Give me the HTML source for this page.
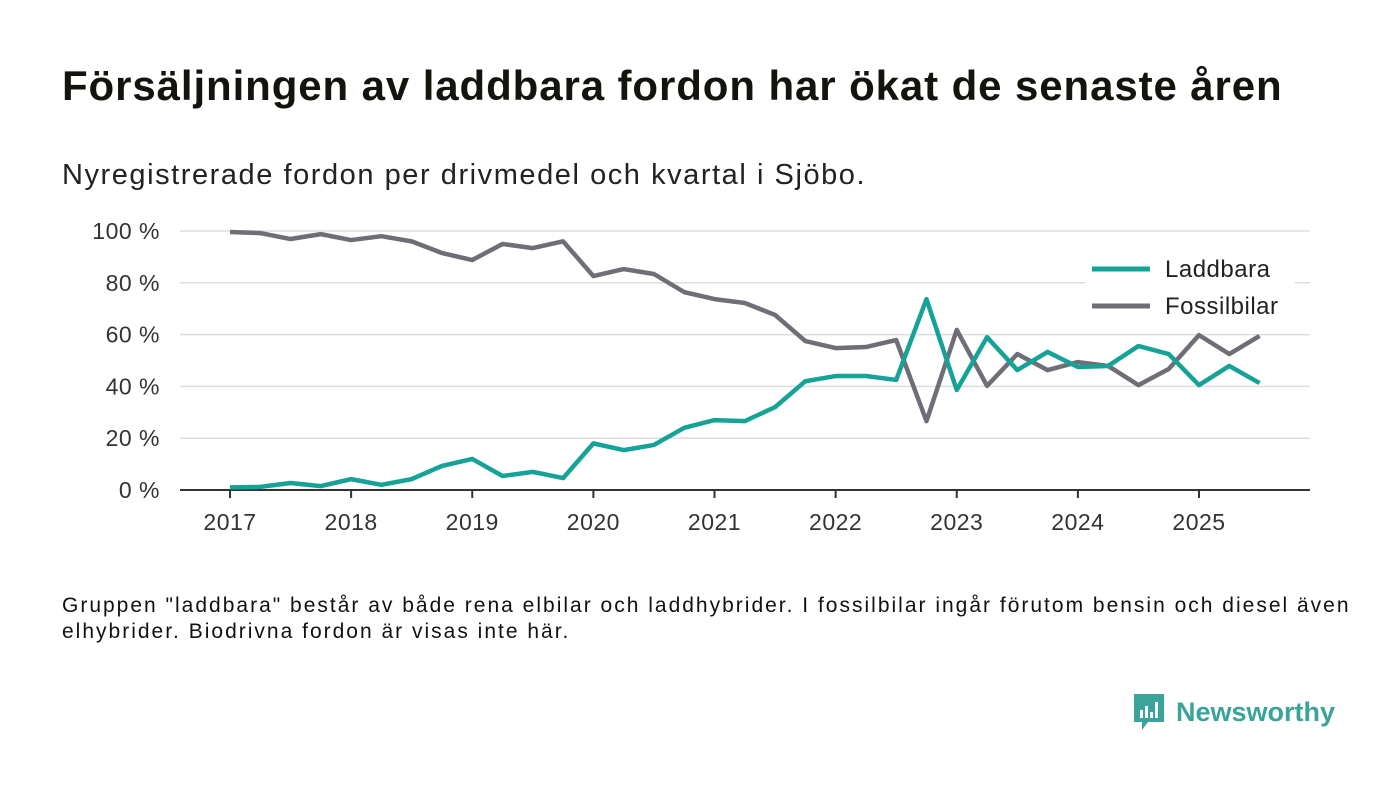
<!DOCTYPE html>
<html><head><meta charset="utf-8"><style>
body{margin:0;width:1400px;height:793px;background:#fff;font-family:"Liberation Sans","DejaVu Sans",sans-serif;color:#111;position:relative;overflow:hidden}
h1{position:absolute;left:62px;top:62px;margin:0;font-size:42px;letter-spacing:0.9px;font-weight:bold;color:#14140f;white-space:nowrap}
.sub{position:absolute;left:62px;top:159px;font-size:29px;letter-spacing:1.55px;color:#222;white-space:nowrap}
.note{position:absolute;left:62px;top:593px;font-size:21px;letter-spacing:2.0px;line-height:26px;color:#111;width:1330px;white-space:nowrap}
svg{position:absolute;left:0;top:0}
.logo{position:absolute;left:1132px;top:692px;display:flex;align-items:center}
.logo span{font-size:27px;font-weight:bold;color:#3aa39a;margin-left:10px}
</style></head><body>
<h1>Försäljningen av laddbara fordon har ökat de senaste åren</h1>
<div class="sub">Nyregistrerade fordon per drivmedel och kvartal i Sjöbo.</div>
<svg id="chart" width="1400" height="793"></svg>
<div class="note">Gruppen "laddbara" består av både rena elbilar och laddhybrider. I fossilbilar ingår förutom bensin och diesel även<br>elhybrider. Biodrivna fordon är visas inte här.</div>
<div class="logo">
<svg width="34" height="40" style="position:static"><path d="M2 2h30v28H16l-6 8v-8H2z" fill="#3aa39a"/><rect x="8" y="18" width="3" height="8" fill="#fff"/><rect x="13" y="14" width="3" height="12" fill="#fff"/><rect x="18" y="20" width="3" height="6" fill="#fff"/><rect x="23" y="10" width="3" height="16" fill="#fff"/></svg>
<span>Newsworthy</span></div>
<script>
const years=["2017","2018","2019","2020","2021","2022","2023","2024","2025"];
const yTicks=[0,20,40,60,80,100];
const laddbara=[1,1.2,2.7,1.5,4.2,2,4.2,9.3,12,5.4,7,4.6,18,15.4,17.4,24,27,26.6,32,42,44,44,42.5,73.7,38.6,59,46.3,53.3,47.5,47.9,55.6,52.5,40.5,47.9,41.3];
const fossil=[99.6,99.2,96.9,98.8,96.5,98,96,91.5,88.8,95,93.4,96,82.6,85.3,83.4,76.4,73.7,72.2,67.6,57.5,54.8,55.2,57.9,26.6,61.8,40.2,52.5,46.3,49.4,47.9,40.5,46.7,59.8,52.5,59.5];
const NS="http://www.w3.org/2000/svg",svg=document.getElementById('chart');
const x=i=>230+i*(969/32), y=v=>490-v*2.59;
function mk(t,a,txt){const e=document.createElementNS(NS,t);for(const k in a)e.setAttribute(k,a[k]);if(txt!=null)e.textContent=txt;svg.appendChild(e);return e;}
yTicks.forEach(v=>{
 const l=mk('line',{x1:180,x2:1310,y1:y(v),y2:y(v),stroke:v?'#ddd':'#333','stroke-width':v?1.5:2});
 
 
 const t=mk('text',{x:160,y:y(v)+8,'text-anchor':'end','font-size':23,'letter-spacing':0.5,fill:'#333','font-family':'Liberation Sans, sans-serif'},v+' %');
 
 
});
years.forEach((yr,k)=>{
 const xx=x(k*4);
 const l=mk('line',{x1:xx,x2:xx,y1:490,y2:498,stroke:'#333','stroke-width':2});
 
 
 const t=mk('text',{x:xx,y:530,'text-anchor':'middle','font-size':23,'letter-spacing':0.5,fill:'#333','font-family':'Liberation Sans, sans-serif'},yr);
 
 
});
function line(d,c,n){
 const p=mk('polyline',{points:d.map((v,i)=>x(i)+','+y(v)).join(' '),fill:'none',stroke:c,'stroke-width':4.5,'stroke-linejoin':'round'});
 
 
}
line(fossil,'#6f6e76','line-fossilbilar');
line(laddbara,'#16a397','line-laddbara');
const bg=mk('rect',{x:1085,y:252,width:210,height:72,fill:'#fff'});


[['Laddbara','#16a397',269],['Fossilbilar','#6f6e76',306]].forEach(([n,c,yy])=>{
 const l=mk('line',{x1:1092,x2:1150,y1:yy,y2:yy,stroke:c,'stroke-width':5});
 
 
 const t=mk('text',{x:1165,y:yy+8,'font-size':24,'letter-spacing':0.5,fill:'#222','font-family':'Liberation Sans, sans-serif'},n);
 
 
});
</script>
</body></html>
